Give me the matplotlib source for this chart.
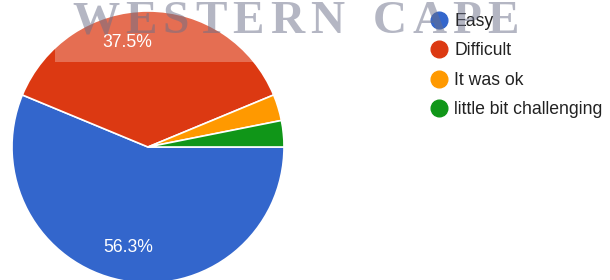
import matplotlib
matplotlib.use("Agg")
import matplotlib.pyplot as plt
from matplotlib.lines import Line2D
from matplotlib.patches import Rectangle
from decimal import Decimal, ROUND_HALF_UP

# survey answers (32 responses)
labels = ["Easy", "Difficult", "It was ok", "little bit challenging"]
counts = [18, 12, 1, 1]
colors = ["#3366cc", "#dc3912", "#ff9900", "#109618"]
watermark = "WESTERN CAPE"


def pct_label(p):
    if p <= 5:
        return ""
    v = Decimal(str(round(p, 6))).quantize(Decimal("0.1"), rounding=ROUND_HALF_UP)
    return f"{v}%"


W, H = 610, 280
fig = plt.figure(figsize=(W / 100, H / 100), dpi=100)
fig.patch.set_facecolor("white")

# pie centre at pixel (148, 147) from top-left, radius 136 px
r_px = 136.0
cx, cy = 148.0, 147.0
ax = fig.add_axes([0, 0, 1, 1])
wedges, texts, autotexts = ax.pie(
    counts, colors=colors, startangle=0, counterclock=False,
    radius=1.0, pctdistance=0.75, autopct=pct_label,
    wedgeprops=dict(edgecolor="white", linewidth=1.2),
    textprops=dict(color="white", fontsize=12.7, family="Liberation Sans"),
)
ax.set_xlim(-cx / r_px, (W - cx) / r_px)
ax.set_ylim(-(H - cy) / r_px, cy / r_px)
ax.set_aspect("auto")
ax.axis("off")

# google places the 37.5% label a little left of the slice middle
autotexts[1].set_position((-0.155, 0.77))

handles = [Line2D([], [], marker="o", linestyle="none", markersize=12,
                  markerfacecolor=c, markeredgecolor=c) for c in colors]
leg = fig.legend(handles, labels, loc="upper left",
                 bbox_to_anchor=(432 / W, 1 - 13 / H), frameon=False,
                 handlelength=0.8, handletextpad=0.45, labelspacing=0.7,
                 borderaxespad=0, borderpad=0,
                 prop=dict(family="Liberation Sans", size=12.7))
for t in leg.get_texts():
    t.set_color("#222222")

# whitish band from the screenshot overlay
fig.patches.append(Rectangle((55 / W, 1 - 62 / H), (530 - 55) / W, 62 / H,
                             transform=fig.transFigure, facecolor="white",
                             edgecolor="none", alpha=0.27, zorder=5))

# watermark, drawn letter by letter with wide tracking
fig.canvas.draw()
renderer = fig.canvas.get_renderer()
x = 72.0
for ch in watermark:
    t = fig.text(x / W, 1 - 33 / H, ch, fontsize=34, fontweight="bold",
                 family="Liberation Serif", color="#6a6f88", alpha=0.5,
                 ha="left", va="baseline", zorder=6)
    if ch == " ":
        x += 22
        continue
    bb = t.get_window_extent(renderer)
    x += bb.width + 6

fig.savefig("out.png", dpi=100)
